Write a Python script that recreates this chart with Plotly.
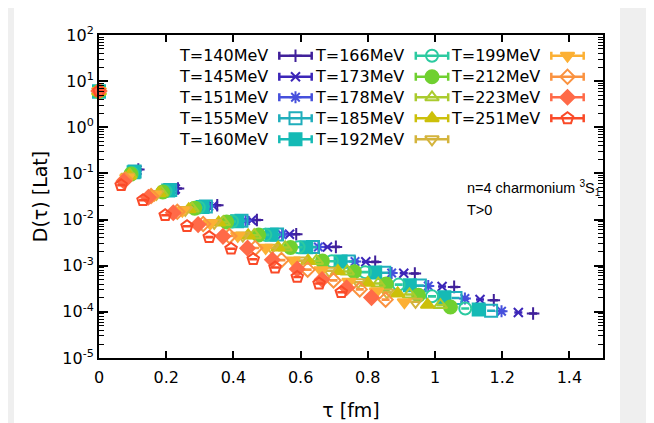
import plotly.graph_objects as go

# temperatures (MeV) of the 14 ensembles
temps = [140, 145, 151, 155, 160, 166, 173, 178, 185, 192, 199, 212, 223, 251]

# tau [fm] for every ensemble
tau_140 = [0, 0.117, 0.235, 0.352, 0.470, 0.587, 0.705, 0.822, 0.940, 1.057, 1.175, 1.292]
tau_145 = [0, 0.113, 0.227, 0.340, 0.454, 0.567, 0.680, 0.794, 0.907, 1.021, 1.134, 1.248]
tau_151 = [0, 0.109, 0.218, 0.327, 0.436, 0.545, 0.653, 0.762, 0.871, 0.980, 1.089, 1.198]
tau_155 = [0, 0.106, 0.212, 0.318, 0.424, 0.530, 0.637, 0.743, 0.849, 0.955, 1.061, 1.167]
tau_160 = [0, 0.103, 0.206, 0.308, 0.411, 0.514, 0.617, 0.719, 0.822, 0.925, 1.028, 1.130]
tau_166 = [0, 0.099, 0.198, 0.297, 0.396, 0.495, 0.594, 0.693, 0.792, 0.892, 0.991, 1.090]
tau_173 = [0, 0.095, 0.190, 0.285, 0.380, 0.475, 0.570, 0.665, 0.760, 0.855, 0.951, 1.046]
tau_178 = [0, 0.092, 0.185, 0.277, 0.370, 0.462, 0.554, 0.647, 0.739, 0.831, 0.924, 1.016]
tau_185 = [0, 0.089, 0.178, 0.267, 0.356, 0.444, 0.533, 0.622, 0.711, 0.800, 0.889, 0.978]
tau_192 = [0, 0.086, 0.171, 0.257, 0.343, 0.428, 0.514, 0.600, 0.685, 0.771, 0.857, 0.942]
tau_199 = [0, 0.083, 0.165, 0.248, 0.331, 0.413, 0.496, 0.578, 0.661, 0.744, 0.826, 0.909]
tau_212 = [0, 0.078, 0.155, 0.233, 0.310, 0.388, 0.465, 0.543, 0.621, 0.698, 0.776, 0.853]
tau_223 = [0, 0.074, 0.147, 0.221, 0.295, 0.369, 0.442, 0.516, 0.590, 0.664, 0.737, 0.811]
tau_251 = [0, 0.066, 0.131, 0.197, 0.262, 0.328, 0.393, 0.459, 0.524, 0.590, 0.655, 0.721]

# D(tau) in lattice units
d_140 = [5.9, 0.122, 0.0472, 0.0205, 0.00977, 0.00482, 0.00256, 0.00121, 6.78e-4, 3.47e-4, 1.79e-4, 9.23e-5]
d_145 = [5.9, 0.118, 0.0460, 0.0200, 0.00964, 0.00479, 0.00255, 0.00122, 6.87e-4, 3.55e-4, 1.85e-4, 9.68e-5]
d_151 = [5.9, 0.113, 0.0446, 0.0195, 0.00948, 0.00475, 0.00254, 0.00123, 6.98e-4, 3.64e-4, 1.94e-4, 1.03e-4]
d_155 = [5.95, 0.110, 0.0437, 0.0192, 0.00938, 0.00472, 0.00253, 0.00123, 7.05e-4, 3.71e-4, 2.00e-4, 1.06e-4]
d_160 = [5.95, 0.106, 0.0425, 0.0187, 0.00925, 0.00470, 0.00252, 0.00124, 7.14e-4, 3.79e-4, 2.07e-4, 1.12e-4]
d_166 = [5.95, 0.1016, 0.0412, 0.0182, 0.00910, 0.00466, 0.00251, 0.00125, 7.26e-4, 3.90e-4, 2.17e-4, 1.18e-4]
d_173 = [6.0, 0.0968, 0.0397, 0.0177, 0.00891, 0.00462, 0.00249, 0.00126, 7.40e-4, 4.02e-4, 2.29e-4, 1.27e-4]
d_178 = [6.0, 0.0934, 0.0386, 0.0173, 0.00881, 0.00458, 0.00248, 0.00127, 7.50e-4, 4.11e-4, 2.38e-4, 1.40e-4]
d_185 = [6.0, 0.0889, 0.0373, 0.0167, 0.00863, 0.00454, 0.00247, 0.00128, 7.64e-4, 4.25e-4, 2.51e-4, 1.42e-4]
d_192 = [6.05, 0.0846, 0.0360, 0.0162, 0.00847, 0.00451, 0.00245, 0.00129, 7.78e-4, 4.39e-4, 2.64e-4, 1.65e-4]
d_199 = [6.05, 0.0805, 0.0346, 0.0157, 0.00830, 0.00446, 0.00244, 0.00130, 7.94e-4, 4.52e-4, 2.79e-4, 1.62e-4]
d_212 = [6.1, 0.0734, 0.0324, 0.0148, 0.00802, 0.00439, 0.00242, 0.00132, 8.22e-4, 4.80e-4, 3.07e-4, 1.84e-4]
d_223 = [6.1, 0.0679, 0.0305, 0.0141, 0.00778, 0.00433, 0.00240, 0.00134, 8.45e-4, 5.04e-4, 3.33e-4, 2.04e-4]
d_251 = [6.15, 0.0557, 0.0264, 0.0124, 0.00719, 0.00417, 0.00234, 0.00138, 9.12e-4, 5.71e-4, 4.11e-4, 2.66e-4]

taus = [tau_140, tau_145, tau_151, tau_155, tau_160, tau_166, tau_173,
        tau_178, tau_185, tau_192, tau_199, tau_212, tau_223, tau_251]
ds = [d_140, d_145, d_151, d_155, d_160, d_166, d_173,
      d_178, d_185, d_192, d_199, d_212, d_223, d_251]

# styles (gnuplot-like point types)
symbols = ["cross-thin-open", "x-thin-open", "asterisk-open", "square-open", "square",
           "circle-open", "circle", "triangle-up-open", "triangle-up", "triangle-down-open",
           "triangle-down", "diamond-open", "diamond", "pentagon-open"]
sizes = [9, 9, 10, 12, 12, 12, 13, 12, 12, 12, 12, 11, 11, 12]
colors = ["#40209a", "#3c26b8", "#4650dc", "#20aebc", "#15bab5", "#2ccaa0", "#70d030",
          "#aacb2e", "#ccc00a", "#d4b43c", "#fcb034", "#fa9240", "#ff6a48", "#fa4a28"]

FONT = "DejaVu Sans"
LABEL_FONT = "Liberation Sans"

fig = go.Figure()

# gnuplot style white canvas inside grey page
fig.add_shape(type="rect", xref="paper", yref="paper",
              x0=-0.1687, x1=1.0337, y0=-0.30, y1=1.15,
              fillcolor="white", line_width=0, layer="below")

for i, t in enumerate(temps):
    fig.add_trace(go.Scatter(
        x=taus[i], y=ds[i], mode="markers", name=f"T={t}MeV",
        marker=dict(symbol=symbols[i], size=sizes[i], color=colors[i],
                    line=dict(color=colors[i], width=2)),
        error_y=dict(type="percent", value=1.5, width=4, thickness=2, color=colors[i]),
        cliponaxis=False, showlegend=False))

# hand-made key (text left, sample with error bar on the right), pixel units on x2/y2
key_x = [295.5, 432, 567.5]
key_y = [55.7, 76.7, 97.3, 118.3, 139.3]
annotations = []
for i, t in enumerate(temps):
    kx, ky = key_x[i // 5], key_y[i % 5]
    fig.add_trace(go.Scatter(
        x=[kx], y=[ky], xaxis="x2", yaxis="y2", mode="markers",
        marker=dict(symbol=symbols[i], size=sizes[i], color=colors[i],
                    line=dict(color=colors[i], width=2)),
        error_x=dict(type="constant", value=16.2, width=4, thickness=2.5, color=colors[i]),
        cliponaxis=False, showlegend=False, hoverinfo="skip"))
    annotations.append(dict(x=kx - 26, y=ky, xref="x2", yref="y2", text=f"T={t}MeV",
                            showarrow=False, xanchor="right", yanchor="middle",
                            font=dict(family=FONT, size=16, color="black")))

annotations.append(dict(x=465, y=188, xref="x2", yref="y2",
                        text="n=4 charmonium <sup>3</sup>S<sub>1</sub>",
                        showarrow=False, xanchor="left", yanchor="middle",
                        font=dict(family=LABEL_FONT, size=14.5, color="black")))
annotations.append(dict(x=465, y=210, xref="x2", yref="y2", text="T>0",
                        showarrow=False, xanchor="left", yanchor="middle",
                        font=dict(family=LABEL_FONT, size=14.5, color="black")))

ytick_vals = [10.0 ** p for p in range(-5, 3)]
ytick_text = ["10<sup>%d</sup>" % p for p in range(-5, 3)]
ytick_minor = [m * 10.0 ** p for p in range(-5, 2) for m in range(2, 10)]

fig.update_layout(
    width=654, height=423,
    margin=dict(l=91, r=59, t=27, b=73),
    paper_bgcolor="#efefef",
    plot_bgcolor="white",
    font=dict(family=FONT, size=16, color="black"),
    annotations=annotations,
    xaxis=dict(
        range=[0, 1.5], tick0=0, dtick=0.2,
        ticks="inside", ticklen=7, tickwidth=1.5, tickcolor="black",
        showline=True, linewidth=2, linecolor="black", mirror="allticks",
        showgrid=False, zeroline=False, ticklabelstandoff=4,
        title=dict(text="τ [fm]", standoff=17),
    ),
    yaxis=dict(
        type="log", range=[-5, 2],
        tickmode="array", tickvals=ytick_vals, ticktext=ytick_text,
        ticks="inside", ticklen=9, tickwidth=1.5, tickcolor="black",
        minor=dict(tickmode="array", tickvals=ytick_minor, ticks="inside",
                   ticklen=5, tickwidth=1, tickcolor="black"),
        showline=True, linewidth=2, linecolor="black", mirror="allticks",
        showgrid=False, zeroline=False,
        title=dict(text="D(τ) [Lat]", standoff=10),
    ),
    xaxis2=dict(overlaying="x", range=[99, 603], visible=False, fixedrange=True),
    yaxis2=dict(overlaying="y", range=[358, 35], visible=False, fixedrange=True),
)

fig.write_html("out.html")
